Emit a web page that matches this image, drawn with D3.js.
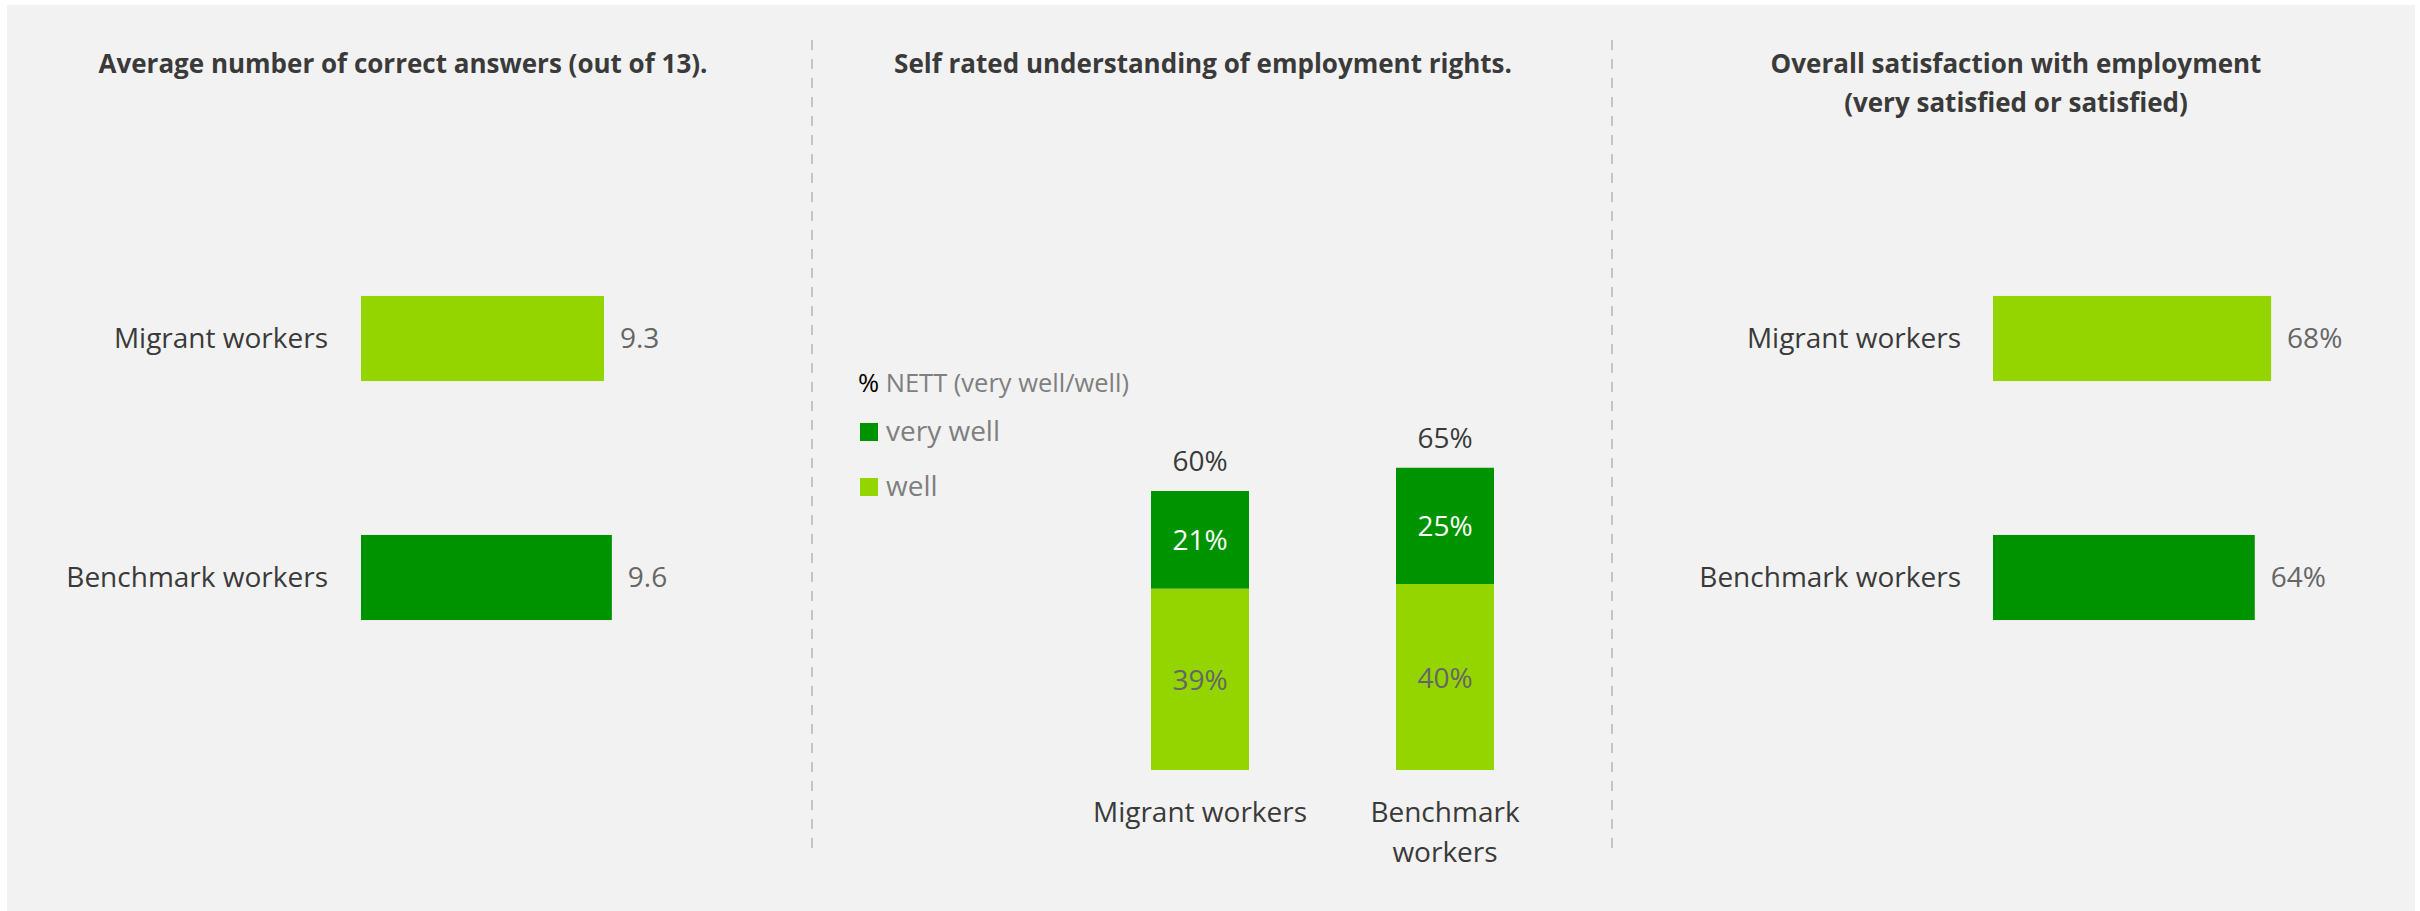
<!DOCTYPE html>
<html><head><meta charset="utf-8">
<script src="https://cdn.jsdelivr.net/npm/d3@7"></script>
<style>
body{margin:0;background:#fff;}
svg{display:block;}
text{font-family:"Open Sans",sans-serif;}
</style>
</head><body>
<svg id="c" width="2420" height="911"></svg>
<script>
// ---- data ----
const groups = ["Migrant workers", "Benchmark workers"];
const correctAnswers = [9.3, 9.6];          // out of 13
const veryWell = [21, 25];                  // %
const well = [39, 40];                      // %
const nett = [60, 65];                      // %
const satisfaction = [68, 64];              // %
const stackLabels = [["Migrant workers"], ["Benchmark", "workers"]];
const legendHeader = ["%", " NETT (very well/well)"];
const legendItems = ["very well", "well"];
const titles = [
  ["Average number of correct answers (out of 13)."],
  ["Self rated understanding of employment rights."],
  ["Overall satisfaction with employment", "(very satisfied or satisfied)"]
];

// ---- style ----
const LIGHT = "#94d500", DARK = "#009300";
const BG = "#f2f2f2", TXT = "#3a3a3a", VAL = "#666666";
const barColors = [LIGHT, DARK];

const svg = d3.select("#c");
svg.append("rect").attr("x", 7).attr("y", 5).attr("width", 2408).attr("height", 906).attr("fill", BG);

// dividers
[812, 1612].forEach(x => {
  svg.append("line").attr("x1", x).attr("x2", x).attr("y1", 40).attr("y2", 848)
    .attr("stroke", "#c4c4c4").attr("stroke-width", 2).attr("stroke-dasharray", "10,9");
});

// titles
const titleX = [403, 1203, 2016];
titles.forEach((lines, i) => {
  const t = svg.append("text").attr("x", titleX[i]).attr("y", 73)
    .attr("text-anchor", "middle").attr("font-weight", 700).attr("font-size", 26).attr("fill", TXT);
  lines.forEach((l, j) => t.append("tspan").attr("x", titleX[i]).attr("dy", j === 0 ? 0 : 38.5).text(l));
});

// horizontal bar panel helper
function hbar(values, x0, pxPerUnit, maxVal, fmt, labelGap) {
  const x = d3.scaleLinear().domain([0, maxVal]).range([x0, x0 + pxPerUnit * maxVal]);
  const y = d3.scaleBand().domain(groups).range([219, 697]).paddingInner(0.644).paddingOuter(0.322);
  const g = svg.append("g");
  g.selectAll("rect").data(values).join("rect")
    .attr("x", x(0)).attr("y", (d, i) => y(groups[i]))
    .attr("width", d => x(d) - x(0)).attr("height", y.bandwidth())
    .attr("fill", (d, i) => barColors[i]);
  g.selectAll("text.val").data(values).join("text").attr("class", "val")
    .attr("x", d => x(d) + 16).attr("y", (d, i) => y(groups[i]) + y.bandwidth() / 2)
    .attr("dy", "0.35em").attr("font-size", 28).attr("fill", VAL).text(fmt);
  g.selectAll("text.cat").data(groups).join("text").attr("class", "cat")
    .attr("x", x(0) - labelGap).attr("y", d => y(d) + y.bandwidth() / 2)
    .attr("dy", "0.35em").attr("text-anchor", "end").attr("font-size", 28).attr("fill", TXT).text(d => d);
}
hbar(correctAnswers, 361, 26.13, 13, d => d.toFixed(1), 33);
hbar(satisfaction, 1993, 4.09, 100, d => d + "%", 32);

// stacked column panel
const xs = d3.scaleBand().domain(groups).range([1077.5, 1567.5]).paddingInner(0.6).paddingOuter(0.3);
const ys = d3.scaleLinear().domain([0, 100]).range([770, 305]);
const sg = svg.append("g");
groups.forEach((gname, i) => {
  const bx = xs(gname), bw = xs.bandwidth(), cx = bx + bw / 2;
  sg.append("rect").attr("x", bx).attr("y", ys(well[i])).attr("width", bw)
    .attr("height", ys(0) - ys(well[i])).attr("fill", LIGHT);
  sg.append("rect").attr("x", bx).attr("y", ys(well[i] + veryWell[i])).attr("width", bw)
    .attr("height", ys(well[i]) - ys(well[i] + veryWell[i])).attr("fill", DARK);
  sg.append("text").attr("x", cx).attr("y", (ys(0) + ys(well[i])) / 2).attr("dy", "0.38em")
    .attr("text-anchor", "middle").attr("font-size", 28).attr("fill", VAL).text(well[i] + "%");
  sg.append("text").attr("x", cx).attr("y", (ys(well[i]) + ys(well[i] + veryWell[i])) / 2).attr("dy", "0.36em")
    .attr("text-anchor", "middle").attr("font-size", 28).attr("fill", "#ffffff").text(veryWell[i] + "%");
  sg.append("text").attr("x", cx).attr("y", ys(nett[i]) - 20)
    .attr("text-anchor", "middle").attr("font-size", 28).attr("fill", TXT).text(nett[i] + "%");
  const t = sg.append("text").attr("x", cx).attr("y", 822).attr("text-anchor", "middle")
    .attr("font-size", 28).attr("fill", TXT);
  stackLabels[i].forEach((l, j) => t.append("tspan").attr("x", cx).attr("dy", j === 0 ? 0 : 39.5).text(l));
});

// legend
const lh = svg.append("text").attr("x", 858).attr("y", 392).attr("font-size", 25.5);
lh.append("tspan").attr("fill", "#000").text(legendHeader[0]);
lh.append("tspan").attr("fill", "#7f7f7f").text(legendHeader[1]);
const legColors = [DARK, LIGHT];
legendItems.forEach((d, i) => {
  const yb = 441 + i * 55;
  svg.append("rect").attr("x", 860).attr("y", yb - 18).attr("width", 18).attr("height", 18).attr("fill", legColors[i]);
  svg.append("text").attr("x", 886).attr("y", yb).attr("font-size", 28).attr("fill", "#7f7f7f").text(d);
});
</script>
</body></html>
